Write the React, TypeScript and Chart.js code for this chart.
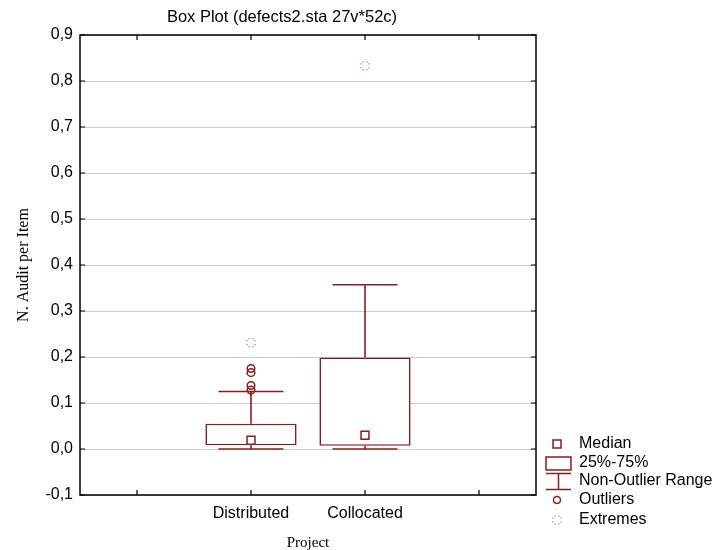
import { useEffect, useRef } from 'react';
import { Chart, registerables } from 'chart.js';

Chart.register(...registerables);

const categories = ['', 'Distributed', 'Collocated', ''];
const projects = ['Distributed', 'Collocated'];
const q1Values = [0.008, 0.007];
const q3Values = [0.055, 0.199];
const medianValues = [0.019, 0.03];
const whiskerLow = [0.0, 0.0];
const whiskerHigh = [0.125, 0.357];
const outlierProject = ['Distributed', 'Distributed', 'Distributed', 'Distributed'];
const outlierValues = [0.128, 0.138, 0.166, 0.175];
const extremeProject = ['Distributed', 'Collocated'];
const extremeValues = [0.231, 0.833];
const yTickLabels = ['-0,1', '0,0', '0,1', '0,2', '0,3', '0,4', '0,5', '0,6', '0,7', '0,8', '0,9'];
const legendLabels = ['Median', '25%-75%', 'Non-Outlier Range', 'Outliers', 'Extremes'];

const MAROON = '#8c1c1c';
const SANS = "'Liberation Sans', Arial, sans-serif";
const SERIF = "'Liberation Serif', 'Times New Roman', serif";

function makeExtremeCanvas(): HTMLCanvasElement {
  const c = document.createElement('canvas');
  c.width = 11;
  c.height = 11;
  const ctx = c.getContext('2d')!;
  ctx.fillStyle = '#a02828';
  for (let k = 0; k < 8; k++) {
    const a = (k * Math.PI) / 4 + Math.PI / 8;
    const px = 5.5 + Math.cos(a) * 4;
    const py = 5.5 + Math.sin(a) * 4;
    ctx.fillRect(Math.floor(px), Math.floor(py), 1, 1);
  }
  return c;
}

export default function App() {
  const ref = useRef<HTMLCanvasElement | null>(null);

  useEffect(() => {
    document.body.style.margin = '0';
    const canvas = ref.current;
    if (!canvas) return;
    const extremeImg = makeExtremeCanvas();

    const boxData = categories.map((c) => {
      const i = projects.indexOf(c);
      return i >= 0 ? [q1Values[i], q3Values[i]] : null;
    });

    const frame = {
      id: 'frameAndWhiskers',
      beforeDatasetsDraw(chart: any) {
        const { ctx, chartArea, scales } = chart;
        const x = scales.x;
        const y = scales.y;
        const slot = (chartArea.right - chartArea.left) / categories.length;
        const cap = slot * 0.57;
        ctx.save();
        ctx.strokeStyle = MAROON;
        ctx.lineWidth = 1.6;
        projects.forEach((p, i) => {
          const cx = x.getPixelForValue(categories.indexOf(p));
          const yHi = y.getPixelForValue(whiskerHigh[i]);
          const yLo = y.getPixelForValue(whiskerLow[i]);
          const yq1 = y.getPixelForValue(q1Values[i]);
          const yq3 = y.getPixelForValue(q3Values[i]);
          ctx.beginPath();
          ctx.moveTo(cx, yHi);
          ctx.lineTo(cx, yq3);
          ctx.moveTo(cx, yq1);
          ctx.lineTo(cx, yLo);
          ctx.moveTo(cx - cap / 2, yHi);
          ctx.lineTo(cx + cap / 2, yHi);
          ctx.moveTo(cx - cap / 2, yLo);
          ctx.lineTo(cx + cap / 2, yLo);
          ctx.stroke();
        });
        ctx.restore();
      },
      afterDraw(chart: any) {
        const { ctx, chartArea, scales } = chart;
        const { left, right, top, bottom } = chartArea;
        ctx.save();
        ctx.strokeStyle = '#000';
        ctx.lineWidth = 1.5;
        ctx.strokeRect(left, top, right - left, bottom - top);
        ctx.lineWidth = 1.2;
        ctx.beginPath();
        scales.y.ticks.forEach((_t: any, i: number) => {
          const py = scales.y.getPixelForTick(i);
          ctx.moveTo(left, py);
          ctx.lineTo(left + 5, py);
          ctx.moveTo(right, py);
          ctx.lineTo(right - 5, py);
        });
        categories.forEach((_c, i) => {
          const px = scales.x.getPixelForValue(i);
          ctx.moveTo(px, bottom);
          ctx.lineTo(px, bottom - 5);
          ctx.moveTo(px, top);
          ctx.lineTo(px, top + 5);
        });
        ctx.stroke();

        // title
        ctx.fillStyle = '#000';
        ctx.font = `16.5px ${SANS}`;
        ctx.textAlign = 'center';
        ctx.textBaseline = 'middle';
        ctx.fillText('Box Plot (defects2.sta 27v*52c)', 282, 17);

        // legend
        const lx = 557;
        const tx = 579;
        const rows = [444, 463, 481, 500, 520];
        ctx.strokeStyle = MAROON;
        ctx.lineWidth = 1.5;
        ctx.strokeRect(lx - 4, rows[0] - 4, 8, 8);
        ctx.strokeRect(546, 457, 25, 13);
        ctx.beginPath();
        ctx.moveTo(546, 473.5);
        ctx.lineTo(571, 473.5);
        ctx.moveTo(558.5, 473.5);
        ctx.lineTo(558.5, 489.5);
        ctx.moveTo(546, 489.5);
        ctx.lineTo(571, 489.5);
        ctx.stroke();
        ctx.beginPath();
        ctx.arc(lx, rows[3], 3.5, 0, Math.PI * 2);
        ctx.stroke();
        ctx.drawImage(extremeImg, lx - 5.5, rows[4] - 5.5);
        ctx.fillStyle = '#000';
        ctx.font = `16px ${SANS}`;
        ctx.textAlign = 'left';
        legendLabels.forEach((t, i) => ctx.fillText(t, tx, rows[i]));
        ctx.restore();
      },
    };

    const chart = new Chart(canvas, {
      type: 'bar',
      data: {
        labels: categories,
        datasets: [
          {
            type: 'bar',
            label: '25%-75%',
            data: boxData as any,
            backgroundColor: '#ffffff',
            borderColor: MAROON,
            borderWidth: 1.6,
            borderSkipped: false,
            barPercentage: 0.8,
            categoryPercentage: 1.0,
            order: 3,
          },
          {
            type: 'line',
            label: 'Median',
            data: projects.map((p, i) => ({ x: p, y: medianValues[i] })) as any,
            showLine: false,
            pointStyle: 'rect',
            pointRadius: 5.6,
            pointBorderWidth: 1.5,
            borderColor: MAROON,
            backgroundColor: '#ffffff',
            order: 1,
          },
          {
            type: 'line',
            label: 'Outliers',
            data: outlierValues.map((v, i) => ({ x: outlierProject[i], y: v })) as any,
            showLine: false,
            pointStyle: 'circle',
            pointRadius: 3.8,
            pointBorderWidth: 1.5,
            borderColor: MAROON,
            backgroundColor: 'rgba(255,255,255,0)',
            order: 1,
          },
          {
            type: 'line',
            label: 'Extremes',
            data: extremeValues.map((v, i) => ({ x: extremeProject[i], y: v })) as any,
            showLine: false,
            pointStyle: extremeImg as any,
            pointRadius: 5,
            order: 1,
          },
        ],
      },
      options: {
        responsive: false,
        animation: false,
        layout: { padding: { top: 35, right: 180, left: 0, bottom: 0 } },
        plugins: {
          legend: { display: false },
          title: { display: false },
          tooltip: { enabled: false },
        },
        scales: {
          x: {
            type: 'category',
            offset: true,
            grid: { display: false, drawTicks: false },
            border: { display: false },
            ticks: {
              color: '#000',
              font: { family: SANS, size: 16 },
              padding: 9,
              maxRotation: 0,
              autoSkip: false,
            },
            title: {
              display: true,
              text: 'Project',
              color: '#000',
              font: { family: SERIF, size: 15 },
              padding: { top: 0, bottom: -2 },
            },
            afterFit: (s: any) => {
              s.height = 55;
            },
          },
          y: {
            min: -0.1,
            max: 0.9,
            grid: { color: '#cdcdcd', lineWidth: 1, drawTicks: false },
            border: { display: false },
            ticks: {
              stepSize: 0.1,
              color: '#000',
              font: { family: SANS, size: 16 },
              padding: 7,
              callback: (_v: any, i: number) => yTickLabels[i],
            },
            title: {
              display: true,
              text: 'N. Audit per Item',
              color: '#000',
              font: { family: SERIF, size: 16 },
              padding: { top: 14, bottom: 0 },
            },
            afterFit: (s: any) => {
              s.width = 80;
            },
          },
        },
      },
      plugins: [frame],
    });

    return () => chart.destroy();
  }, []);

  return (
    <div style={{ width: 716, height: 550 }}>
      <canvas ref={ref} width={716} height={550} />
    </div>
  );
}
